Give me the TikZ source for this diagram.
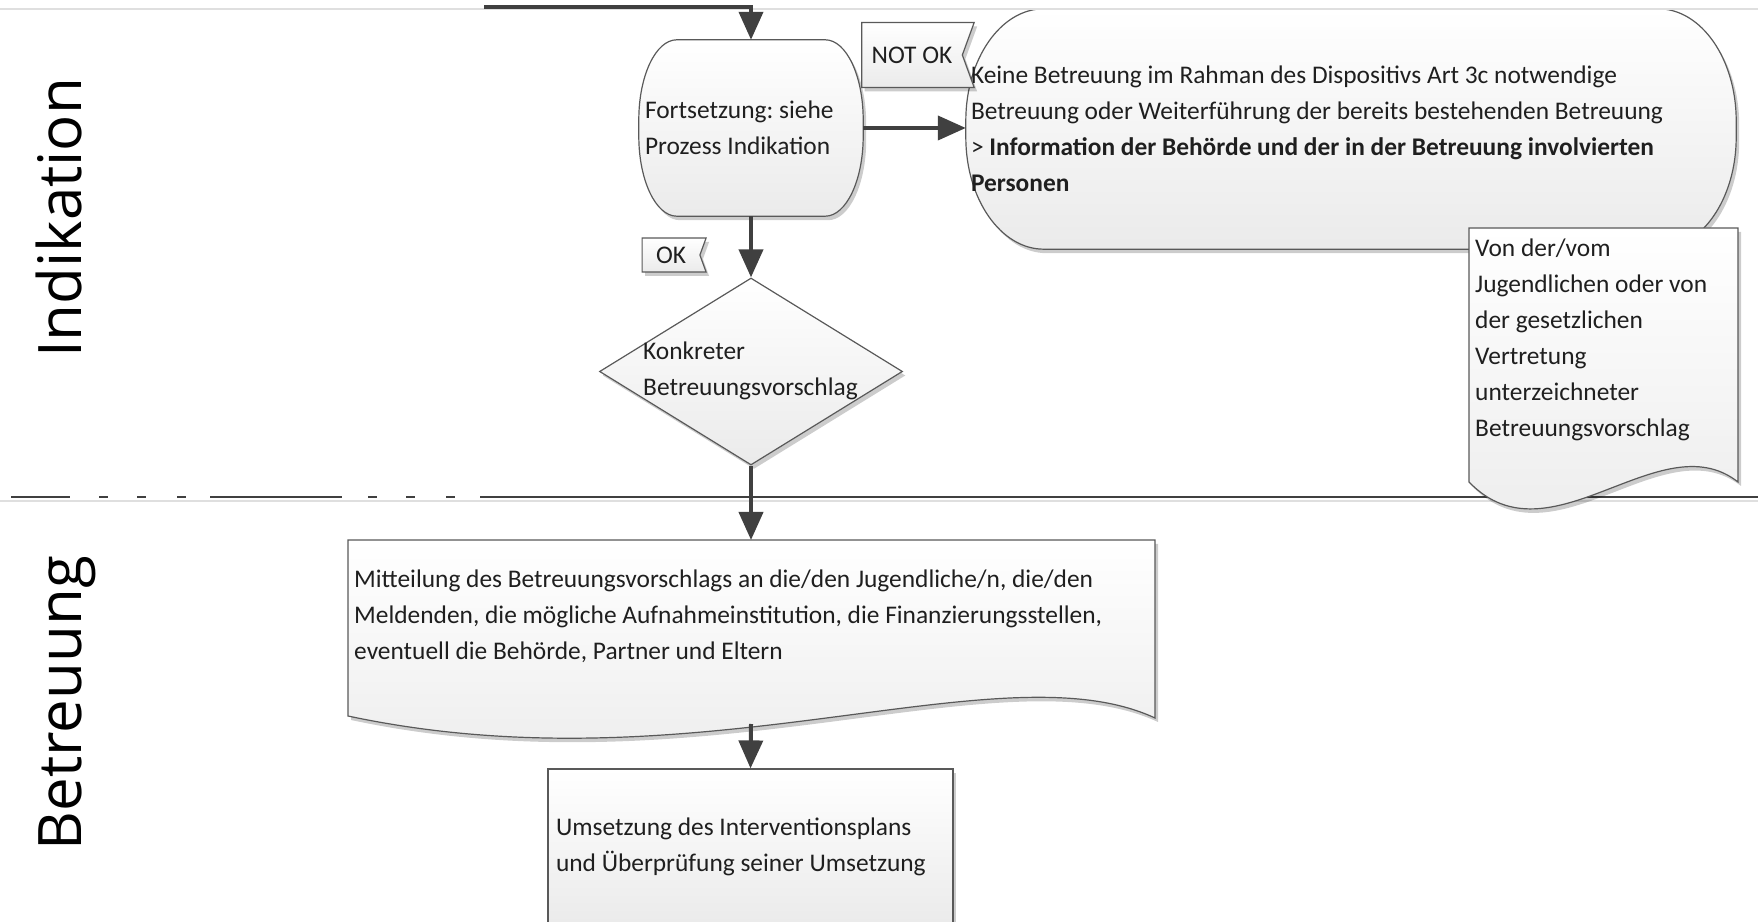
\documentclass[tikz,border=0pt]{standalone}
\usepackage{fontspec}
\setmainfont{Carlito}
\newfontfamily\lanefont{Open Sans}
\usetikzlibrary{positioning,shapes.geometric,shapes.symbols,arrows.meta,shadows,backgrounds}
\frenchspacing

\definecolor{flowgray}{HTML}{404040}
\definecolor{edgegray}{HTML}{595959}

\tikzset{
  box/.style={draw=edgegray, line width=1.2pt, top color=white, bottom color=gray!16,
    drop shadow={shadow xshift=3pt, shadow yshift=-4pt, opacity=.2, fill=black}},
  txt/.style={font=\fontsize{25.4}{36}\selectfont, align=flush left, text=black!88},
  flow/.style={draw=flowgray, line width=4pt, -{Triangle[length=28pt,width=24pt]}},
  flag/.style={box, txt, signal, signal to=nowhere, signal from=east,
    signal pointer angle=140, inner xsep=10pt, inner ysep=0pt},
  lane/.style={rotate=90, anchor=base, font=\lanefont\fontsize{60}{62}\selectfont}
}

% outline with elliptic corners round a named node: node, x radius, y radius
\newcommand\ellbox[3]{%
  \path[box] ([xshift=#2]#1.north west) -- ([xshift=-#2]#1.north east)
    arc[start angle=90, end angle=0, x radius=#2, y radius=#3]
    -- ([yshift=#3]#1.south east)
    arc[start angle=0, end angle=-90, x radius=#2, y radius=#3]
    -- ([xshift=#2]#1.south west)
    arc[start angle=270, end angle=180, x radius=#2, y radius=#3]
    -- ([yshift=-#3]#1.north west)
    arc[start angle=180, end angle=90, x radius=#2, y radius=#3] -- cycle;}

\begin{document}
\begin{tikzpicture}[x=1pt,y=1pt]
\useasboundingbox (0,0) rectangle (1758,921);

%% Lanes
\draw[gray!25, line width=1.2pt] (0,912) -- (1758,912);
\draw[gray!25, line width=1.2pt] (0,420) -- (1758,420);
\draw[flowgray, line width=1.6pt,
  dash pattern=on 59pt off 29pt on 9pt off 29pt on 9pt off 31pt on 9pt off 24pt
  on 132pt off 26pt on 9pt off 29pt on 9pt off 31pt on 9pt off 25pt on 1400pt]
  (11,424) -- (1758,424);
\node[lane] (indik) at (81,703) {Indikation};
\node[lane] (betr) at (81,218) {Betreuung};

%% Indikation
\coordinate (top-in) at (484,914);
\node[txt, minimum width=224pt, minimum height=176pt,
  text width=212pt, inner xsep=6pt] (fort) at (751,793)
  {Fortsetzung: siehe\\Prozess Indikation};
\node[txt, minimum width=770pt, minimum height=240pt,
  text width=760pt, inner xsep=5pt] (keine) at (1351,792)
  {Keine Betreuung im Rahman des Dispositivs Art 3c notwendige\\
   Betreuung oder Weiterführung der bereits bestehenden Betreuung\\
   > \textbf{Information der Behörde und der in der Betreuung involvierten}\\
   \textbf{Personen}};
\begin{scope}[on background layer]
  \ellbox{fort}{38pt}{80pt}
  \ellbox{keine}{78pt}{112pt}
\end{scope}
\node[flag, minimum height=65pt, minimum width=104pt] (notok) at (912,866) {NOT OK};
\node[flag, minimum height=34pt, minimum width=64pt] (ok) at (671,666) {OK};
\node[box, diamond, minimum width=303pt, minimum height=187pt, inner sep=0pt]
  (konk) at (751,549.5) {};
\node[txt, anchor=west, inner xsep=6pt] (konkt) at (637,550)
  {Konkreter\\Betreuungsvorschlag};

% signed proposal (document)
\path[box] (1469,693) -- (1738,693) -- (1738,439)
  .. controls (1660,500) and (1550,355) .. (1469,439) -- cycle;
\node[txt, anchor=west, inner xsep=6pt] (unterz) at (1469,581)
  {Von der/vom\\Jugendlichen oder von\\der gesetzlichen\\Vertretung\\
   unterzeichneter\\Betreuungsvorschlag};

%% Betreuung
\path[box] (348,381) -- (1155,381) -- (1155,203)
  .. controls (1000,275) and (700,130) .. (348,205) -- cycle;
\coordinate (mitt-in) at (751,381);
\coordinate (mitt-out) at (751,197);
\node[txt, anchor=west, inner xsep=6pt] (mitt) at (348,305)
  {Mitteilung des Betreuungsvorschlags an die/den Jugendliche/n, die/den\\
   Meldenden, die mögliche Aufnahmeinstitution, die Finanzierungsstellen,\\
   eventuell die Behörde, Partner und Eltern};
\node[box, txt, minimum width=405pt, minimum height=156pt, text width=389pt,
  inner xsep=8pt] (umsetz) at (750.5,74)
  {Umsetzung des Interventionsplans\\und Überprüfung seiner Umsetzung};

%% Arrows
\draw[flow] (top-in) -| (fort.north);
\draw[flow] (fort.east) -- (fort.east -| keine.west);
\draw[flow] (fort.south) -- (konk.north);
\draw[flow] (konk.south) -- (mitt-in);
\draw[flow] (mitt-out) -- (umsetz.north);

\end{tikzpicture}
\end{document}
